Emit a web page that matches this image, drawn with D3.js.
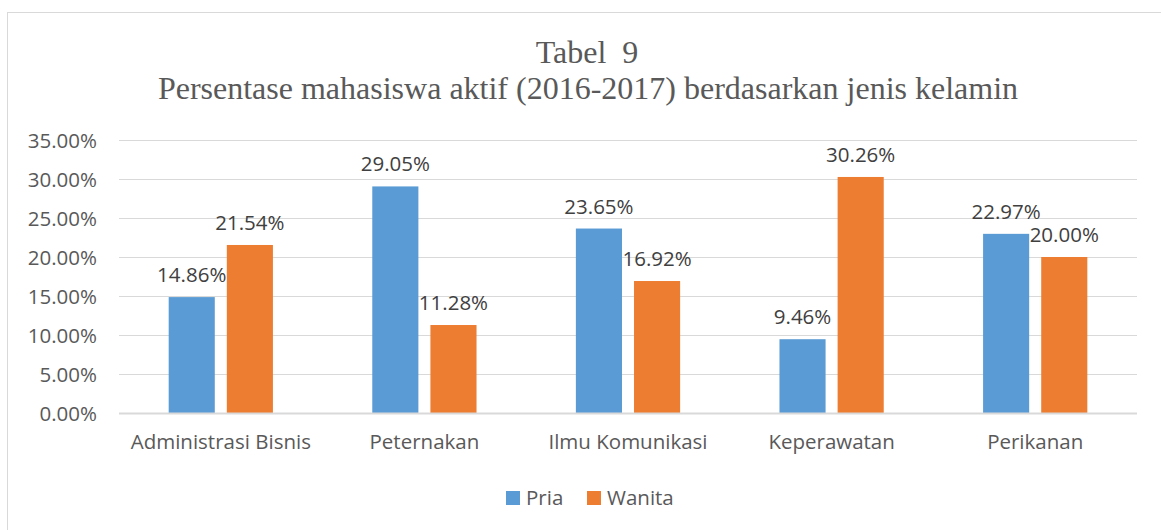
<!DOCTYPE html>
<html>
<head>
<meta charset="utf-8">
<script src="https://cdn.jsdelivr.net/npm/d3@7"></script>
<style>
  html, body { margin: 0; padding: 0; background: #fff; }
  svg { display: block; }
</style>
</head>
<body>
<svg id="chart" width="1161" height="530"></svg>
<script>
const categories = ["Administrasi Bisnis", "Peternakan", "Ilmu Komunikasi", "Keperawatan", "Perikanan"];
const seriesNames = ["Pria", "Wanita"];
const pria = [14.86, 29.05, 23.65, 9.46, 22.97];
const wanita = [21.54, 11.28, 16.92, 30.26, 20.00];
const yTicks = [0, 5, 10, 15, 20, 25, 30, 35];
const titleLines = ["Tabel  9", "Persentase mahasiswa aktif (2016-2017) berdasarkan jenis kelamin"];
const colors = ["#5b9bd5", "#ed7d31"];

const svg = d3.select("#chart");
const plot = { left: 119, right: 1137, top: 140, bottom: 413 };

svg.append("rect").attr("x", 7.5).attr("y", 12.5).attr("width", 1170).attr("height", 540)
  .attr("fill", "#fff").attr("stroke", "#d9d9d9").attr("stroke-width", 1);

const serif = "'Liberation Serif', 'Times New Roman', serif";
svg.append("text").attr("x", 587).attr("y", 63).attr("text-anchor", "middle")
  .attr("font-family", serif).attr("font-size", 32)
  .attr("fill", "#595959").style("white-space", "pre").text(titleLines[0]);
svg.append("text").attr("x", 588).attr("y", 99).attr("text-anchor", "middle")
  .attr("font-family", serif).attr("font-size", 32)
  .attr("fill", "#595959").text(titleLines[1]);

const y = d3.scaleLinear().domain([0, 35]).range([plot.bottom, plot.top]);
const x0 = d3.scaleBand().domain(categories).range([plot.left, plot.right]).padding(0);
const bw = x0.bandwidth();
const groupW = bw * 0.512;
const x1 = d3.scaleBand().domain(seriesNames)
  .range([(bw - groupW) / 2, (bw + groupW) / 2]).paddingInner(0.207).paddingOuter(0);

const font = "'Open Sans', 'Noto Sans', sans-serif";
const fs = 20.5;

const yAxis = d3.axisLeft(y).tickValues(yTicks).tickSize(-(plot.right - plot.left))
  .tickFormat(d => d.toFixed(2) + "%").tickPadding(22);
const gy = svg.append("g").attr("transform", `translate(${plot.left},0)`).call(yAxis);
gy.select(".domain").remove();
gy.selectAll(".tick line").attr("stroke", "#d9d9d9").attr("stroke-width", 1);
gy.selectAll(".tick text").attr("font-family", font).attr("font-size", fs)
  .attr("fill", "#595959").attr("dy", "0.35em");

const xAxis = d3.axisBottom(x0).tickSize(0).tickPadding(21);
const gx = svg.append("g").attr("transform", `translate(0,${plot.bottom})`).call(xAxis);
gx.select(".domain").remove();
gx.selectAll(".tick text").attr("font-family", font).attr("font-size", fs).attr("fill", "#595959");

const data = categories.map((c, i) => ({ cat: c, vals: [pria[i], wanita[i]] }));
const groups = svg.append("g").selectAll("g").data(data).join("g")
  .attr("transform", d => `translate(${x0(d.cat)},0)`);
groups.selectAll("rect").data(d => d.vals.map((v, j) => ({ s: seriesNames[j], v, j }))).join("rect")
  .attr("x", d => x1(d.s)).attr("width", x1.bandwidth())
  .attr("y", d => y(d.v)).attr("height", d => y(0) - y(d.v))
  .attr("fill", d => colors[d.j]);
groups.selectAll("text.lbl").data(d => d.vals.map((v, j) => ({ s: seriesNames[j], v, j }))).join("text")
  .attr("class", "lbl")
  .attr("x", d => x1(d.s) + x1.bandwidth() / 2).attr("y", d => y(d.v) - 15)
  .attr("text-anchor", "middle").attr("font-family", font).attr("font-size", fs)
  .attr("fill", "#404040").text(d => d.v.toFixed(2) + "%");

svg.append("line").attr("x1", plot.left).attr("x2", plot.right)
  .attr("y1", plot.bottom + 0.5).attr("y2", plot.bottom + 0.5)
  .attr("stroke", "#d9d9d9").attr("stroke-width", 2);

const legendItems = [{ name: "Pria", x: 506 }, { name: "Wanita", x: 587 }];
const lg = svg.append("g");
legendItems.forEach((it, i) => {
  lg.append("rect").attr("x", it.x).attr("y", 491).attr("width", 14).attr("height", 14).attr("fill", colors[i]);
  lg.append("text").attr("x", it.x + 20).attr("y", 505).attr("font-family", font).attr("font-size", fs)
    .attr("fill", "#595959").text(it.name);
});
</script>
</body>
</html>
